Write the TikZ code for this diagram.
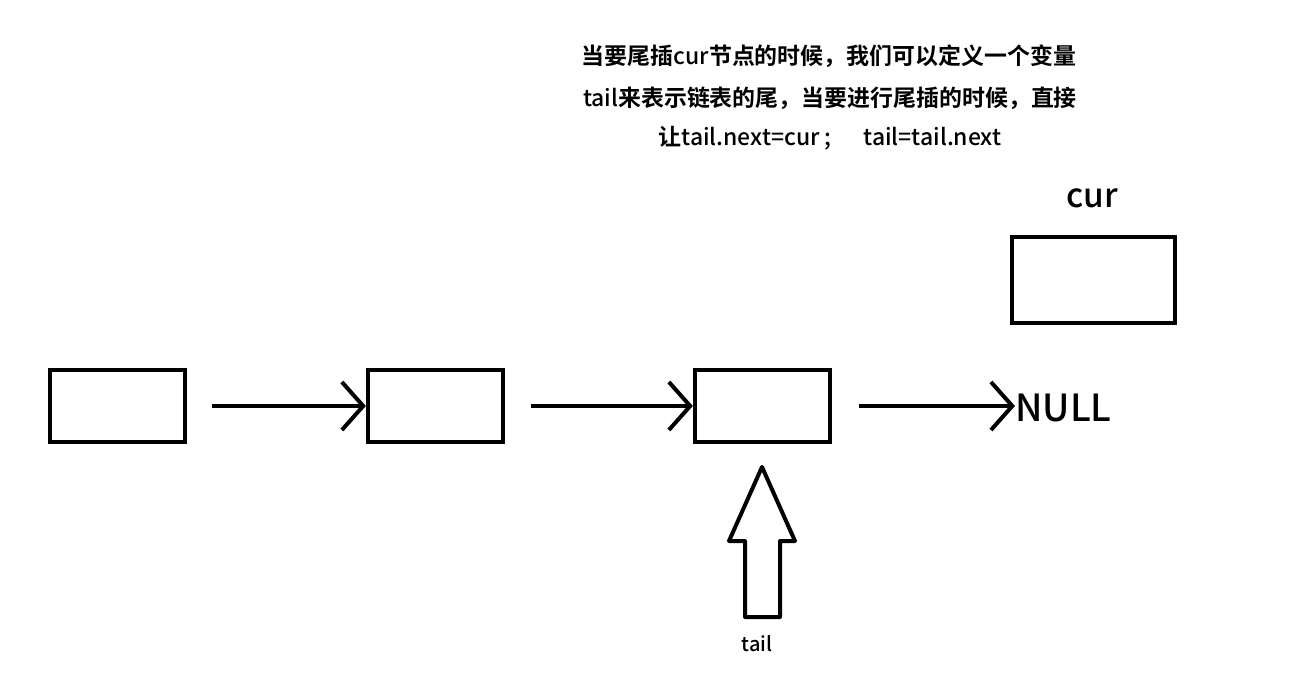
\documentclass[tikz,border=0pt]{standalone}
\usepackage{fontspec}
\setmainfont{Noto Sans CJK SC}
\newfontfamily\cjkb{Noto Sans CJK SC Bold}
\newfontfamily\cjkm{Noto Sans CJK SC Medium}
\usetikzlibrary{arrows.meta}
\begin{document}
\begin{tikzpicture}[x=0.75pt,y=-0.75pt,
  box/.style={draw,line width=3.4pt,minimum width=101pt,minimum height=54pt,inner sep=0pt},
  link/.style={line width=3pt,-{Straight Barb[length=16pt,width=36pt,line width=3pt]}},
  toptxt/.style={font=\fontsize{17.2pt}{20pt}\selectfont,inner sep=0pt,anchor=center}]
\useasboundingbox[fill=white] (0,0) rectangle (1311,679);
% top description
\node[toptxt] (t1) at (829,56) {{\cjkb 当要尾插}{\cjkm cur}{\cjkb 节点的时候，我们可以定义一个变量}};
\node[toptxt] (t2) at (830,98) {{\cjkm tail}{\cjkb 来表示链表的尾，当要进行尾插的时候，直接}};
\node[toptxt] (t3) at (830,138) {{\cjkb 让}{\cjkm tail.next=cur ;\hspace{24pt}tail=tail.next}};
% list nodes
\node[box] (b1) at (117.5,406) {};
\node[box] (b2) at (435.5,406) {};
\node[box] (b3) at (762.5,406) {};
\node[box,minimum width=122pt,minimum height=64.5pt] (cur) at (1093.5,280) {};
\node[font=\cjkm\fontsize{25pt}{30pt}\selectfont,inner sep=0pt] (curlbl) at (1092,198) {cur};
\node[font=\cjkm\fontsize{28pt}{32pt}\selectfont,inner sep=0pt,anchor=west] (null) at (1015,408) {NULL};
% links
\draw[link] ([xshift=18.75pt]b1.east) -- (b2.west);
\draw[link] ([xshift=19.5pt]b2.east) -- (b3.west);
\draw[link] ([xshift=20pt]b3.east) -- (b3.east -| null.west);
% tail pointer (hollow arrow)
\coordinate (tip) at (762,467);
\draw[line width=3pt,line join=round] (tip) -- (795,541) -- (780,541) -- (780,617) -- (745,617) -- (745,541) -- (729,541) -- cycle;
\node[font=\cjkm\fontsize{15pt}{18pt}\selectfont,inner sep=0pt] (taillbl) at (757,644) {tail};
\end{tikzpicture}
\end{document}
